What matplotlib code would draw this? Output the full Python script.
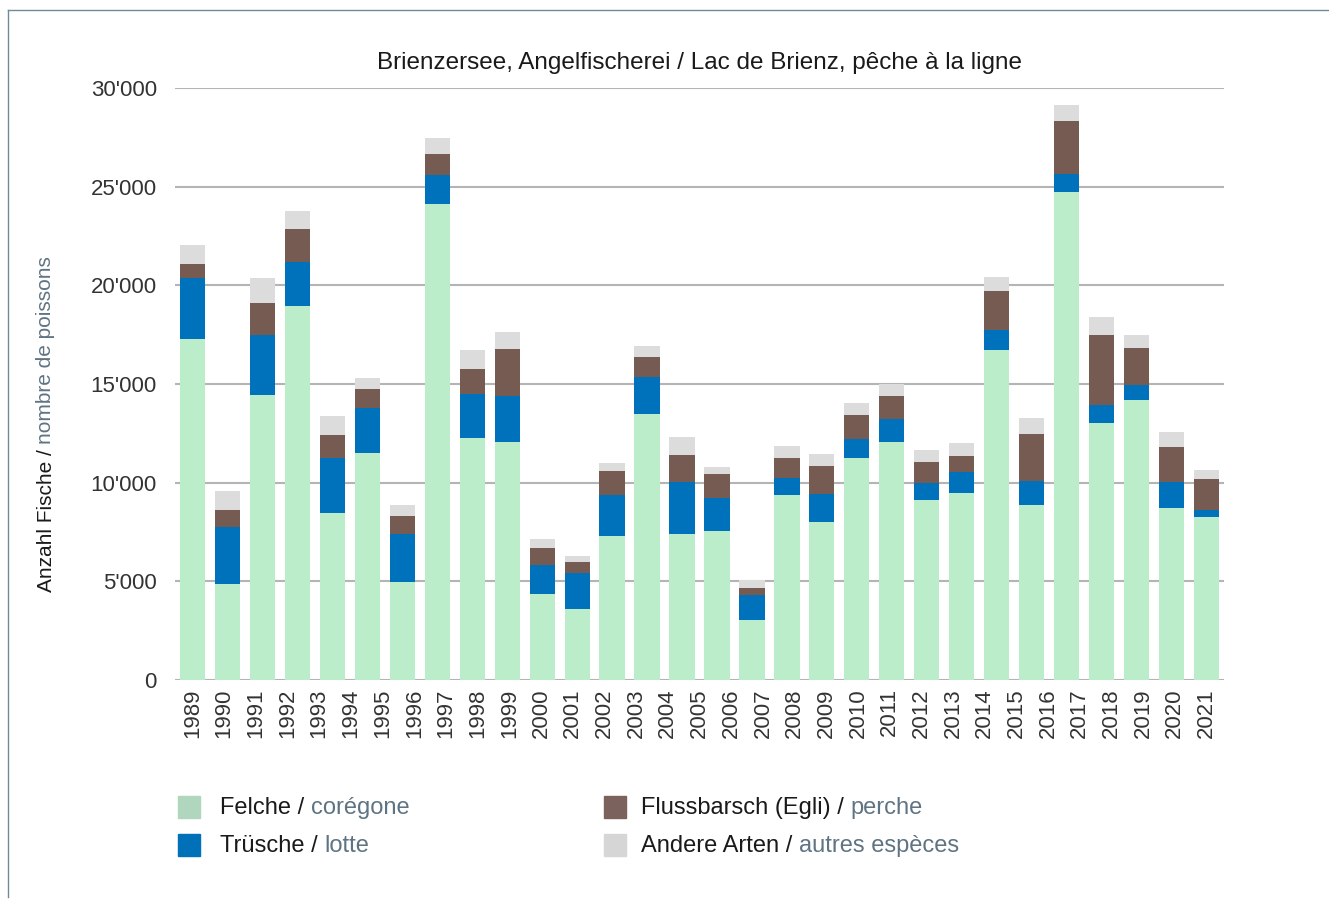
import matplotlib
matplotlib.use("Agg")
import matplotlib.pyplot as plt
import numpy as np
from matplotlib.lines import Line2D
from matplotlib.patches import Rectangle
from matplotlib.ticker import FuncFormatter

plt.rcParams["font.family"] = ["Liberation Sans", "DejaVu Sans"]

# axis labels: 33 years are written under the axis, the chart holds 30 bars
years = [str(y) for y in range(1989, 2022)]

# number of fish per species (stacked, bottom to top)
felche = [17270, 4890, 14450, 18950, 8480, 11480, 4960, 24130, 12250, 12080,
          4380, 3590, 7290, 13480, 7390, 7560, 3045, 9360, 8010, 11250,
          12070, 9130, 9460, 16730, 8870, 24710, 13030, 14170, 8720, 8280]
truesche = [3100, 2860, 3010, 2240, 2790, 2310, 2430, 1470, 2230, 2310,
            1440, 1810, 2100, 1890, 2630, 1670, 1275, 870, 1420, 970,
            1170, 860, 1100, 1030, 1190, 940, 920, 770, 1320, 330]
barsch = [730, 890, 1650, 1660, 1150, 950, 910, 1050, 1260, 2400,
          870, 590, 1180, 1010, 1370, 1230, 340, 1030, 1410, 1220,
          1170, 1040, 810, 1930, 2390, 2680, 3540, 1860, 1760, 1570]
andere = [930, 960, 1250, 930, 980, 540, 550, 830, 970, 820,
          460, 310, 430, 530, 920, 310, 420, 620, 590, 620,
          580, 620, 640, 730, 810, 830, 920, 660, 760, 440]

names_de = ["Felche", "Trüsche", "Flussbarsch (Egli)", "Andere Arten"]
names_fr = ["corégone", "lotte", "perche", "autres espèces"]
bar_colors = ["#bbedca", "#0072bc", "#765b53", "#dcdcdc"]
legend_colors = ["#b0d6bd", "#0070b8", "#7b625c", "#d6d6d6"]
FR_COLOR = "#5f7482"
TEXT_COLOR = "#1a1a1a"

W, H = 1329, 899
fig = plt.figure(figsize=(W / 100, H / 100), dpi=100)
ax = fig.add_axes([175 / W, 1 - 680 / H, (1224 - 175) / W, (680 - 88) / H])

x = np.arange(len(felche))
bottom = np.zeros(len(x))
for vals, color in zip([felche, truesche, barsch, andere], bar_colors):
    ax.bar(x, vals, width=0.72, bottom=bottom, color=color, zorder=3)
    bottom += np.array(vals)

ax.set_xlim(-0.5, len(x) - 0.5)
ax.set_ylim(0, 30000)
ax.set_yticks(np.arange(0, 30001, 5000))
ax.yaxis.set_major_formatter(FuncFormatter(lambda v, p: f"{int(v):,}".replace(",", "'")))
ax.set_xticks(np.linspace(0, len(x) - 1, len(years)))
ax.set_xticklabels(years, rotation=90)
ax.tick_params(length=0, labelsize=16, colors="#333333")
ax.tick_params(axis="y", pad=13)
ax.tick_params(axis="x", pad=6)
ax.grid(axis="y", color="#b4b4b4", lw=1.5, zorder=0)
for s in ax.spines.values():
    s.set_visible(False)

ax.set_title("Brienzersee, Angelfischerei / Lac de Brienz, pêche à la ligne",
             fontsize=17.5, color=TEXT_COLOR, pad=14)

# y label in two colours
t1 = fig.text(46 / W, 1 - 592 / H, "Anzahl Fische /", rotation=90,
              ha="center", va="bottom", fontsize=15, color=TEXT_COLOR)
ax.annotate("nombre de poissons", xy=(0.5, 1), xycoords=t1,
            xytext=(0, 4), textcoords="offset points", rotation=90,
            ha="center", va="bottom", fontsize=15, color=FR_COLOR,
            annotation_clip=False)

# legend, two columns: (square left, text left, row centre) in pixels
legend_pos = [(178, 220, 807), (178, 220, 845), (604, 641, 807), (604, 641, 845)]
for (sx, tx, ly), de, fr, c in zip(legend_pos, names_de, names_fr, legend_colors):
    fig.patches.append(Rectangle((sx / W, 1 - (ly + 11) / H), 22 / W, 22 / H,
                                 transform=fig.transFigure, color=c))
    tl = fig.text(tx / W, 1 - (ly + 1) / H, de + " /", ha="left", va="center",
                  fontsize=17, color=TEXT_COLOR)
    ax.annotate(fr, xy=(1, 0), xycoords=tl, xytext=(4.5, 0),
                textcoords="offset points", ha="left", va="bottom",
                fontsize=17, color=FR_COLOR, annotation_clip=False)

# thin frame round the figure
frame = "#6f8a99"
fig.add_artist(Line2D([8 / W, 8 / W], [2 / H, 1 - 10 / H], transform=fig.transFigure,
                      color=frame, lw=1))
fig.add_artist(Line2D([8 / W, 1], [1 - 10 / H, 1 - 10 / H], transform=fig.transFigure,
                      color=frame, lw=1))

fig.savefig("out.png", dpi=100)
